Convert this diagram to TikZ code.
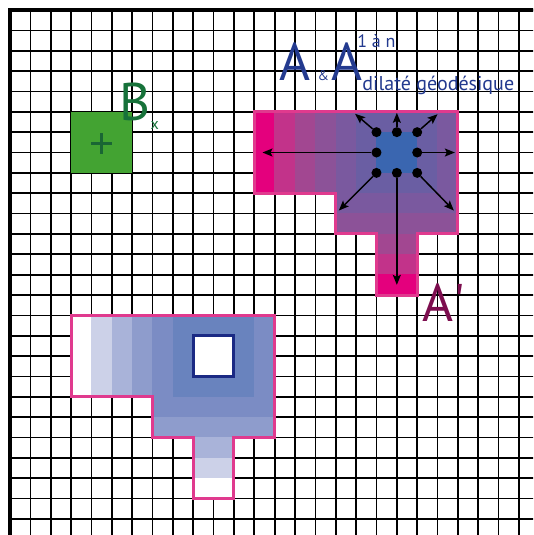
\documentclass[tikz,border=0pt]{standalone}
\usepackage{fontspec}
\setmainfont{PT Sans}
\usetikzlibrary{arrows.meta}
\definecolor{mag0}{HTML}{3A66B0}
\definecolor{mag1}{HTML}{6A5EA3}
\definecolor{mag2}{HTML}{7A599F}
\definecolor{mag3}{HTML}{8C5298}
\definecolor{mag4}{HTML}{A24791}
\definecolor{mag5}{HTML}{C2338A}
\definecolor{mag6}{HTML}{E4007D}
\definecolor{blu0}{HTML}{FFFFFF}
\definecolor{blu1}{HTML}{6983BE}
\definecolor{blu2}{HTML}{7B8CC4}
\definecolor{blu3}{HTML}{8E9CCC}
\definecolor{blu4}{HTML}{A9B3D9}
\definecolor{blu5}{HTML}{CCD1E8}
\definecolor{blu6}{HTML}{FFFFFF}
\definecolor{pinkline}{HTML}{E03A8E}
\definecolor{holeblue}{HTML}{1B2A84}
\definecolor{titleblue}{HTML}{233A8F}
\definecolor{aprime}{HTML}{7D0E4F}
\definecolor{bgreen}{HTML}{17723A}
\definecolor{sqgreen}{HTML}{43A332}
\definecolor{plusgreen}{HTML}{1A6634}
\begin{document}
\begin{tikzpicture}[x=20.36pt,y=-20.36pt,
  gridline/.style={line width=1.7pt,draw=black},
  borderline/.style={line width=3.8pt,draw=black},
  outline/.style={line width=3pt,draw=pinkline,line join=miter},
  holeline/.style={line width=3pt,draw=holeblue},
  dot/.style={circle,fill=black,inner sep=0pt,minimum size=10pt},
  arr/.style={line width=1.5pt,-{Stealth[length=10pt,width=8pt,inset=2pt]}},
  lbl/.style={anchor=base west,inner sep=0pt}]
\useasboundingbox (-0.4912,-0.4912) rectangle (25.688,25.786);
\clip (-0.4912,-0.4912) rectangle (25.688,25.786);
\fill[white] (-0.4912,-0.4912) rectangle (25.688,25.786);
% grid
\foreach \i in {0,...,25} \draw[gridline] (\i,0) -- (\i,26);
\foreach \j in {0,...,25} \draw[gridline] (0,\j) -- (26,\j);
\draw[borderline] (0,26) -- (0,0) -- (26,0);
% cells of both shapes
\foreach \ra/\rb/\ca/\cb in {5/8/12/21, 9/10/16/21, 11/13/18/19}
 \foreach \r in {\ra,...,\rb}
  \foreach \c in {\ca,...,\cb} {
   \pgfmathtruncatemacro\dd{max(0,18-\c,\c-19,6-\r,\r-7)}
   \fill[mag\dd] (\c-0.01,\r-0.01) rectangle (\c+1.01,\r+1.01);
   \fill[blu\dd] (\c-9.01,\r+9.99) rectangle (\c-7.99,\r+11.01);
  }
\draw[outline] (12,5) -- (22,5) -- (22,11) -- (20,11) -- (20,14) -- (18,14) -- (18,11) -- (16,11) -- (16,9) -- (12,9) -- cycle;
\draw[outline] (3,15) -- (13,15) -- (13,21) -- (11,21) -- (11,24) -- (9,24) -- (9,21) -- (7,21) -- (7,19) -- (3,19) -- cycle;
\draw[holeline,fill=white] (9,16) rectangle (11,18);
% structuring element
\fill[sqgreen] (3,5) rectangle (6,8);
\draw[plusgreen,line width=2.6pt] (4.0,6.55) -- (5.0,6.55) (4.5,6.05) -- (4.5,7.05);
% dots and arrows
\node[dot] (p1) at (18,6) {};
\node[dot] (p2) at (19,6) {};
\node[dot] (p3) at (20,6) {};
\node[dot] (p4) at (18,7) {};
\node[dot] (p5) at (20,7) {};
\node[dot] (p6) at (18,8) {};
\node[dot] (p7) at (19,8) {};
\node[dot] (p8) at (20,8) {};
\coordinate (e1) at (16.95,5.1);
\coordinate (e2) at (19,5.05);
\coordinate (e3) at (21.0,5.12);
\coordinate (e4) at (12.4,7);
\coordinate (e5) at (21.85,7);
\coordinate (e6) at (16.15,9.85);
\coordinate (e7) at (19,13.5);
\coordinate (e8) at (21.8,9.85);
\foreach \k in {1,...,8} \draw[arr] (p\k) -- (e\k);
% labels
\node[lbl,text=titleblue,font=\fontsize{53}{53}\selectfont] (tA) at (13.25,3.44) {A};
\node[lbl,text=titleblue,font=\fontsize{14}{14}\selectfont] (tamp) at (15.1,3.44) {\&};
\node[lbl,text=titleblue,font=\fontsize{53}{53}\selectfont] (tA2) at (15.8,3.44) {A};
\node[lbl,text=titleblue,font=\fontsize{18}{18}\selectfont] (tsup) at (17.05,1.82) {1 à n};
\node[lbl,text=titleblue,font=\fontsize{20}{20}\selectfont] (tsub) at (17.3,3.93) {dilaté géodésique};
\node[lbl,text=bgreen,font=\fontsize{53}{53}\selectfont] (tB) at (5.35,5.45) {B};
\node[lbl,text=bgreen,font=\fontsize{16}{16}\selectfont] (tx) at (6.9,5.85) {x};
\node[lbl,text=aprime,font=\fontsize{53}{53}\selectfont] (tAp) at (20.25,15.3) {A\textquotesingle};
\end{tikzpicture}
\end{document}
